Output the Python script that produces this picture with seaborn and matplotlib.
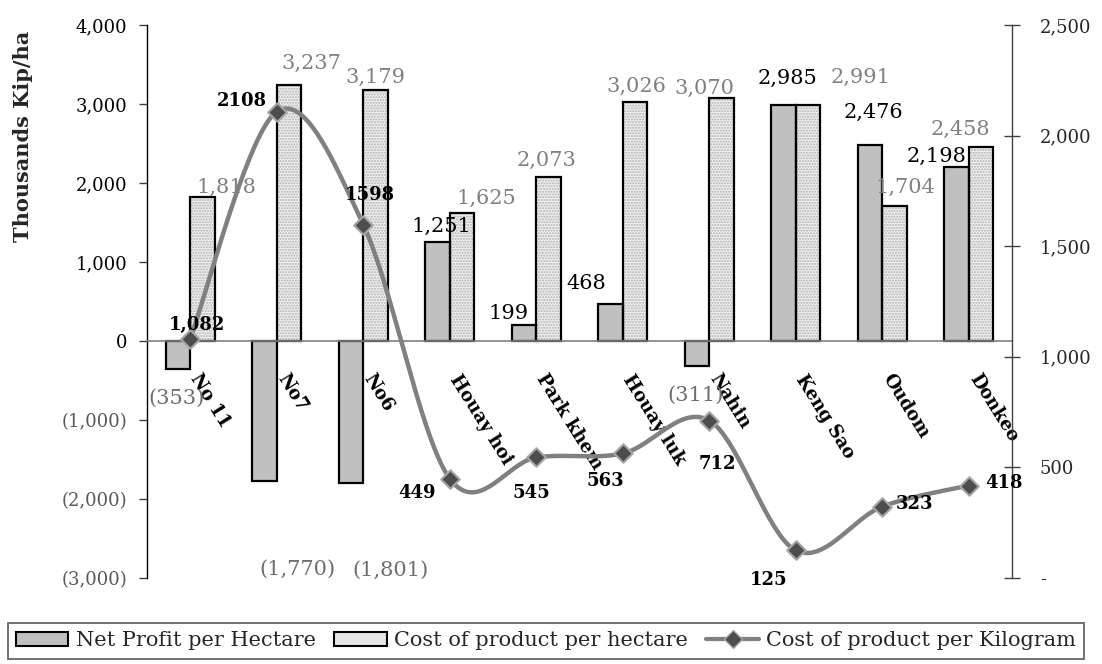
import numpy as np
import pandas as pd
import matplotlib
matplotlib.use("Agg")
import matplotlib.pyplot as plt
from matplotlib.patches import Patch, Rectangle
from matplotlib.lines import Line2D
import seaborn as sns

# ---- data -------------------------------------------------------------
sites = ["No 11", "No7", "No6", "Houay hoi", "Park khem",
         "Houay luk", "Nahin", "Keng Sao", "Oudom", "Donkeo"]
net_profit = [-353, -1770, -1801, 1251, 199, 468, -311, 2985, 2476, 2198]
cost_per_ha = [1818, 3237, 3179, 1625, 2073, 3026, 3070, 2991, 1704, 2458]
cost_per_kg = [1082, 2108, 1598, 449, 545, 563, 712, 125, 323, 418]
kg_label_formats = ["{:,}"] + ["{}"] * 9

series_names = ["Net Profit per Hectare", "Cost of product per hectare",
                "Cost of product per Kilogram"]
left_ticks = [-3000, -2000, -1000, 0, 1000, 2000, 3000, 4000]
right_ticks = [0, 500, 1000, 1500, 2000, 2500]
y_title = "Thousands Kip/ha"

# ---- label placement (pixel offsets: dx, dy-up) -------------------------
np_offsets = [(-2, -29), (33, -88), (39, -87), (4, 16), (-16, 12),
              (-24, 21), (-1, -30), (4, 27), (3, 33), (-20, 11)]
ha_offsets = [(24, 10), (22, 22), (0, 12), (24, 14), (-2, 17),
              (1, 16), (-17, 10), (53, 27), (11, 19), (-21, 17)]
kg_offsets = [(7, 14), (-35, 11), (7, 30), (-33, -14), (-5, -36),
              (-17, -28), (8, -43), (-27, -30), (32, 3), (35, 3)]

sns.set_style("white")
plt.rcParams["font.family"] = ["DejaVu Serif"]

GREY_BAR = "#c0c0c0"
DOT_FACE = "#f0f0f0"
LINE_COL = "#808080"

fig = plt.figure(figsize=(11.02, 6.64), dpi=100)
ax = fig.add_axes([147 / 1102, 1 - 578 / 664, (1012 - 147) / 1102, (578 - 25) / 664])

df = pd.DataFrame({
    "site": sites * 2,
    "series": [series_names[0]] * len(sites) + [series_names[1]] * len(sites),
    "value": net_profit + cost_per_ha,
})
sns.barplot(data=df, x="site", y="value", hue="series", order=sites,
            hue_order=series_names[:2], palette=[GREY_BAR, DOT_FACE],
            width=0.566, saturation=1, edgecolor="black", linewidth=1.6,
            errorbar=None, legend=False, ax=ax)

# dotted fill for the cost bars, kept under the black outline
for rect in ax.containers[1]:
    dots = Rectangle(rect.get_xy(), rect.get_width(), rect.get_height(),
                     facecolor=DOT_FACE, edgecolor="#b0b0b0", hatch="......",
                     linewidth=0, zorder=rect.get_zorder() - 0.1)
    ax.add_patch(dots)
    rect.set_facecolor("none")

ax.set_xlim(-0.5, len(sites) - 0.5)
ax.set_ylim(left_ticks[0], left_ticks[-1])
ax.set_xlabel("")
ax.set_ylabel("")

# category axis sits on zero, tick marks at category boundaries
ax.spines["top"].set_visible(False)
ax.spines["right"].set_visible(False)
ax.spines["bottom"].set_position(("data", 0))
ax.spines["bottom"].set_color("#7f7f7f")
ax.spines["bottom"].set_linewidth(1.2)
ax.spines["left"].set_color("black")
ax.spines["left"].set_linewidth(1.0)
ax.set_xticks(np.arange(-0.5, len(sites), 1.0))
ax.set_xticklabels([])
ax.tick_params(axis="x", direction="out", length=6, width=1, color="#404040")

ax.set_yticks(left_ticks)
ax.set_yticklabels(["0" if v == 0 else (f"({abs(v):,})" if v < 0 else f"{v:,}")
                    for v in left_ticks])
for lab, v in zip(ax.get_yticklabels(), left_ticks):
    lab.set_color("#595959" if v < 0 else "black")
ax.tick_params(axis="y", direction="out", length=6, width=1, pad=8,
               labelsize=13, color="#404040")

for i, name in enumerate(sites):
    ax.annotate(name, (i, 0), xytext=(12, -30), textcoords="offset pixels",
                rotation=-58, rotation_mode="anchor", ha="left", va="top",
                fontsize=13, fontweight="bold", color="black")

# bar value labels
for i, v in enumerate(net_profit):
    txt = f"({abs(v):,})" if v < 0 else f"{v:,}"
    dx, dy = np_offsets[i]
    ax.annotate(txt, (i - 0.1415, v), xytext=(dx, dy), textcoords="offset pixels",
                ha="center", va="center", fontsize=15,
                color="#6e6e6e" if v < 0 else "black")
for i, v in enumerate(cost_per_ha):
    dx, dy = ha_offsets[i]
    ax.annotate(f"{v:,}", (i + 0.1415, v), xytext=(dx, dy), textcoords="offset pixels",
                ha="center", va="center", fontsize=15, color="#808080")

# ---- secondary axis: smoothed cost per kilogram ---------------------------
ax2 = ax.twinx()
ax2.set_ylim(right_ticks[0], right_ticks[-1])
xk = np.arange(len(cost_per_kg), dtype=float)
yk = np.asarray(cost_per_kg, dtype=float)
n = len(xk)
curve_x, curve_y = [], []
t = np.linspace(0, 1, 40)
for i in range(n - 1):
    i0 = max(i - 1, 0)
    i3 = min(i + 2, n - 1)
    p0 = np.array([xk[i], yk[i]])
    p3 = np.array([xk[i + 1], yk[i + 1]])
    c1 = p0 + (np.array([xk[i + 1], yk[i + 1]]) - np.array([xk[i0], yk[i0]])) / 6
    c2 = p3 - (np.array([xk[i3], yk[i3]]) - np.array([xk[i], yk[i]])) / 6
    b = ((1 - t) ** 3)[:, None] * p0 + (3 * (1 - t) ** 2 * t)[:, None] * c1 \
        + (3 * (1 - t) * t ** 2)[:, None] * c2 + (t ** 3)[:, None] * p3
    curve_x.extend(b[:, 0])
    curve_y.extend(b[:, 1])
ax2.plot(curve_x, curve_y, color=LINE_COL, linewidth=3.2, solid_capstyle="round", zorder=3)
sns.scatterplot(x=xk, y=yk, marker="D", s=90, color="#4d4d4d", edgecolor="#a6a6a6",
                linewidth=1.5, zorder=4, ax=ax2, legend=False)
for i, v in enumerate(cost_per_kg):
    dx, dy = kg_offsets[i]
    ax2.annotate(kg_label_formats[i].format(v), (i, v), xytext=(dx, dy),
                 textcoords="offset pixels", ha="center", va="center",
                 fontsize=13, fontweight="bold", color="black", zorder=6)

for side in ["top", "left", "bottom"]:
    ax2.spines[side].set_visible(False)
ax2.spines["right"].set_color("#404040")
ax2.spines["right"].set_linewidth(1.0)
ax2.set_yticks(right_ticks)
ax2.set_yticklabels(["-" if v == 0 else f"{v:,}" for v in right_ticks])
ax2.tick_params(axis="y", direction="inout", length=12, width=1, pad=14,
                labelsize=13, color="#404040")

fig.text(23 / 1102, 1 - 136 / 664, y_title, rotation=90, ha="center", va="center",
         fontsize=15, fontweight="bold")

handles = [
    Patch(facecolor=GREY_BAR, edgecolor="black", linewidth=1.5),
    Patch(facecolor="#e6e6e6", edgecolor="black", linewidth=1.5),
    Line2D([], [], color=LINE_COL, linewidth=3, marker="D", markersize=9,
           markerfacecolor="#4d4d4d", markeredgecolor="#a6a6a6"),
]
leg = fig.legend(handles, series_names, loc="upper left",
                 bbox_to_anchor=(8 / 1102, 1 - 623 / 664), ncol=3, frameon=True,
                 fancybox=False, edgecolor="#404040", fontsize=15,
                 handlelength=2.5, handleheight=0.6, handletextpad=0.35,
                 columnspacing=0.9, borderpad=0.4, borderaxespad=0)
leg.get_frame().set_linewidth(1.3)

fig.savefig("out.png", dpi=100)
